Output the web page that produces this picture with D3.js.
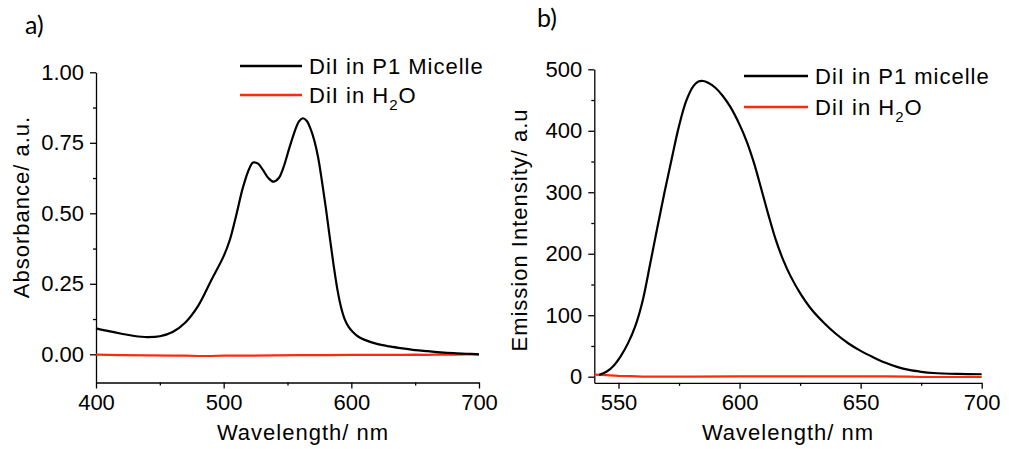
<!DOCTYPE html>
<html>
<head>
<meta charset="utf-8">
<script src="https://cdn.jsdelivr.net/npm/d3@7"></script>
<style>
  body { margin: 0; background: #fff; }
  svg { display: block; font-family: "Liberation Sans", Arial, sans-serif; }
  .tick text { font-size: 22px; fill: #000; }
  .domain, .tick line { stroke: #000; stroke-width: 1.3px; }
  .title { font-size: 22px; letter-spacing: 1px; fill: #000; }
  .panelLabel { font-family: Lato, "Open Sans", sans-serif; font-size: 25px; fill: #000; }
</style>
</head>
<body>
<svg id="chart" width="1009" height="449"></svg>
<script>
"use strict";
/* global d3 */

// a) absorbance
var absWavelength = [400, 410, 420, 430, 440, 450, 460, 470, 480, 490, 500, 505, 510, 515, 520, 523, 527, 531, 535, 539, 543, 547, 551, 555, 559, 562, 565, 568, 571, 574, 577, 580, 583, 586, 589, 592, 595, 598, 601, 605, 610, 620, 630, 640, 650, 660, 670, 680, 690, 700];
var absMicelle = [0.092, 0.082, 0.073, 0.065, 0.061, 0.064, 0.079, 0.113, 0.172, 0.26, 0.348, 0.408, 0.496, 0.59, 0.658, 0.68, 0.676, 0.652, 0.625, 0.612, 0.624, 0.665, 0.725, 0.782, 0.826, 0.837, 0.828, 0.8, 0.758, 0.698, 0.613, 0.52, 0.418, 0.32, 0.232, 0.166, 0.122, 0.096, 0.08, 0.064, 0.052, 0.037, 0.028, 0.021, 0.015, 0.011, 0.007, 0.004, 0.002, 0.0];
var absWaterWavelength = [400, 420, 440, 460, 470, 480, 490, 500, 520, 540, 560, 580, 600, 620, 640, 650, 660, 670, 680, 690, 700];
var absWater = [-0.001, -0.003, -0.004, -0.005, -0.005, -0.006, -0.006, -0.005, -0.005, -0.004, -0.003, -0.003, -0.002, -0.002, -0.002, -0.001, -0.002, 0.0, -0.001, 0.0, 0.0];
var absXTicks = [400, 500, 600, 700];
var absXMinor = [450, 550, 650];
var absYTicks = [0, 0.25, 0.5, 0.75, 1.0];
var absYMinor = [0.125, 0.375, 0.625, 0.875];
var absLegend = ["DiI in P1 Micelle", "DiI in H"];

// b) emission
var emWavelength = [542, 545, 548, 551, 554, 557, 560, 563, 566, 569, 572, 575, 578, 581, 583, 585, 587, 590, 593, 596, 600, 603, 606, 609, 612, 615, 618, 621, 625, 630, 635, 640, 645, 650, 655, 660, 665, 670, 675, 680, 690, 700];
var emMicelle = [3, 8, 18, 34, 55, 83, 124, 182, 242, 300, 355, 408, 449, 473, 480, 481, 478, 470, 457, 440, 410, 382, 347, 305, 262, 222, 190, 164, 136, 108, 87, 69, 54, 42, 32, 23, 16, 11, 8, 6, 4.5, 4];
var emWaterWavelength = [540, 545, 550, 555, 560, 580, 600, 620, 640, 660, 670, 675, 690, 700];
var emWater = [3.5, 2.5, 1.5, 1, 0, 0, 0.5, 0.5, 0.5, 0.5, 0, -0.5, -0.5, -0.5];
var emXTicks = [550, 600, 650, 700];
var emXMinor = [575, 625, 675];
var emYTicks = [0, 100, 200, 300, 400, 500];
var emYMinor = [50, 150, 250, 350, 450];
var emLegend = ["DiI in P1 micelle", "DiI in H"];

var BLACK = "#000",
  RED = "#ff2a0a";

var svg = d3.select("#chart");

function drawPanel(cfg) {
  var g = svg.append("g");
  var x = d3.scaleLinear().domain(cfg.xDomain).range(cfg.xRange);
  var y = d3.scaleLinear().domain(cfg.yDomain).range(cfg.yRange);
  var bottom = cfg.yRange[0],
    left = cfg.xRange[0];

  // minor ticks
  g.append("g")
    .attr("transform", `translate(0,${bottom})`)
    .call(d3.axisBottom(x).tickValues(cfg.xMinor).tickSize(3).tickFormat(""))
    .call((s) => s.select(".domain").remove());
  g.append("g")
    .attr("transform", `translate(${left},0)`)
    .call(d3.axisLeft(y).tickValues(cfg.yMinor).tickSize(3).tickFormat(""))
    .call((s) => s.select(".domain").remove());

  // major axes
  g.append("g")
    .attr("transform", `translate(0,${bottom})`)
    .call(d3.axisBottom(x).tickValues(cfg.xTicks).tickSize(6).tickSizeOuter(0).tickPadding(6).tickFormat(d3.format("d")))
    .attr("font-family", null)
    .attr("font-size", null);
  g.append("g")
    .attr("transform", `translate(${left},0)`)
    .call(d3.axisLeft(y).tickValues(cfg.yTicks).tickSize(6).tickSizeOuter(0).tickPadding(6).tickFormat(cfg.yFormat))
    .attr("font-family", null)
    .attr("font-size", null);

  var line = d3.line().x((d) => x(d[0])).y((d) => y(d[1]));

  g.append("path")
    .datum(d3.zip(cfg.waterX, cfg.water))
    .attr("fill", "none")
    .attr("stroke", RED)
    .attr("stroke-width", 2.2)
    .attr("d", line.curve(d3.curveLinear));

  g.append("path")
    .datum(d3.zip(cfg.micelleX, cfg.micelle))
    .attr("fill", "none")
    .attr("stroke", BLACK)
    .attr("stroke-width", 2.2)
    .attr("d", line.curve(d3.curveCatmullRom.alpha(0.5)));

  // legend
  var leg = g.selectAll(".leg")
    .data(cfg.legend)
    .enter()
    .append("g")
    .attr("class", "leg")
    .attr("transform", (d, i) => `translate(${cfg.legX},${cfg.legY[i]})`);
  leg.append("line")
    .attr("x1", 0).attr("x2", cfg.legLen)
    .attr("y1", -8).attr("y2", -8)
    .attr("stroke", (d, i) => (i === 0 ? BLACK : RED))
    .attr("stroke-width", 2.5);
  var lt = leg.append("text")
    .attr("class", "title")
    .attr("x", cfg.legLen + 7)
    .text((d) => d);
  lt.filter((d, i) => i === 1).each(function () {
    var t = d3.select(this);
    t.append("tspan").attr("dy", 7).attr("font-size", 15).text("2");
    t.append("tspan").attr("dy", -7).text("O");
  });

  // axis titles
  g.append("text")
    .attr("class", "title")
    .attr("text-anchor", "middle")
    .attr("x", cfg.xTitleX)
    .attr("y", 440)
    .text("Wavelength/ nm");
  g.append("text")
    .attr("class", "title")
    .attr("text-anchor", "middle")
    .attr("transform", `translate(${cfg.yTitleX},${cfg.yTitleY}) rotate(-90)`)
    .text(cfg.yTitle);

  g.append("text")
    .attr("class", "panelLabel")
    .attr("x", cfg.labelX)
    .attr("y", cfg.labelY)
    .text(cfg.label);
}

drawPanel({
  xDomain: [400, 700], xRange: [96, 479],
  yDomain: [-0.1, 1.0], yRange: [382.5, 72.3],
  xTicks: absXTicks, xMinor: absXMinor,
  yTicks: absYTicks, yMinor: absYMinor,
  yFormat: d3.format(".2f"),
  micelleX: absWavelength, micelle: absMicelle,
  waterX: absWaterWavelength, water: absWater,
  legend: absLegend, legX: 240, legY: [74, 103], legLen: 62,
  xTitleX: 303, yTitleX: 29, yTitleY: 207,
  yTitle: "Absorbance/ a.u.",
  label: "a)", labelX: 25, labelY: 34
});

drawPanel({
  xDomain: [540, 700], xRange: [594.3, 981.7],
  yDomain: [-10, 500], yRange: [382.85, 69.3],
  xTicks: emXTicks, xMinor: emXMinor,
  yTicks: emYTicks, yMinor: emYMinor,
  yFormat: d3.format("d"),
  micelleX: emWavelength, micelle: emMicelle,
  waterX: emWaterWavelength, water: emWater,
  legend: emLegend, legX: 744, legY: [84, 115], legLen: 64,
  xTitleX: 788, yTitleX: 527, yTitleY: 230,
  yTitle: "Emission Intensity/ a.u",
  label: "b)", labelX: 537, labelY: 27
});
</script>
</body>
</html>
